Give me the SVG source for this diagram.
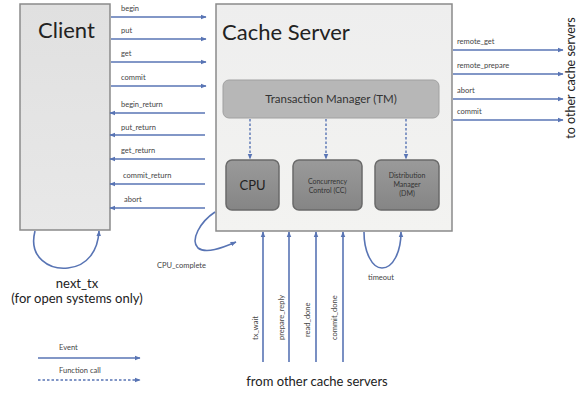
<svg xmlns="http://www.w3.org/2000/svg" width="578" height="394" viewBox="0 0 578 394">
<defs>
<marker id="ah" viewBox="0 0 10 10" refX="9" refY="5" markerWidth="6" markerHeight="6" orient="auto-start-reverse" markerUnits="userSpaceOnUse">
<path d="M0,1 L10,5 L0,9 z" fill="#5874b4"/>
</marker>
<linearGradient id="gc" x1="0" y1="0" x2="0" y2="1"><stop offset="0" stop-color="#e0e0e0"/><stop offset="1" stop-color="#e8e8e8"/></linearGradient>
<linearGradient id="gs" x1="0" y1="0" x2="0" y2="1"><stop offset="0" stop-color="#eeeeee"/><stop offset="1" stop-color="#f3f3f1"/></linearGradient>
<linearGradient id="gd" x1="0" y1="0" x2="0" y2="1"><stop offset="0" stop-color="#9a9a9a"/><stop offset="1" stop-color="#858585"/></linearGradient>
</defs>
<style>
.box{stroke:#8a8a8a;stroke-width:1.5}
.tm{fill:#b7b7b7;stroke:#a0a0a0;stroke-width:1}
.sub{fill:url(#gd);stroke:#6a6a6a;stroke-width:1.5}
.ar{stroke:#5874b4;stroke-width:1.6;fill:none;marker-end:url(#ah)}
.dash{stroke:#5874b4;stroke-width:1.4;fill:none;stroke-dasharray:2.5,2;marker-end:url(#ah)}
.lbl{font-family:Lato,"Open Sans",sans-serif;font-size:7.5px;fill:#444}
.big{font-family:Lato,"Open Sans",sans-serif;font-size:22px;fill:#222}
.mid{font-family:Lato,"Open Sans",sans-serif;font-size:13px;fill:#222}
.in{font-family:Lato,"Open Sans",sans-serif;font-size:7px;fill:#333;text-anchor:middle}
</style>
<rect width="578" height="394" fill="#ffffff"/>
<g id="client">
<rect class="box" x="20" y="4" width="90" height="226" fill="url(#gc)"/>
<text class="big" x="38" y="38">Client</text>
</g>
<g id="cache-server">
<rect class="box" x="216" y="4" width="236" height="227" fill="url(#gs)"/>
<text class="big" x="222" y="40">Cache Server</text>
</g>
<g id="tm">
<rect class="tm" x="223" y="80" width="216" height="38" rx="6"/>
<text x="331" y="103" text-anchor="middle" style="font-family:Lato,'Open Sans',sans-serif;font-size:11.5px;fill:#333">Transaction Manager (TM)</text>
</g>
<g id="cpu">
<rect class="sub" x="226" y="160" width="53" height="50" rx="6"/>
<text x="252.5" y="190" text-anchor="middle" style="font-family:Lato,'Open Sans',sans-serif;font-size:13px;fill:#222">CPU</text>
</g>
<g id="cc">
<rect class="sub" x="293" y="160" width="69" height="50" rx="6"/>
<text class="in" x="327.5" y="184">Concurrency</text>
<text class="in" x="327.5" y="193">Control (CC)</text>
</g>
<g id="dm">
<rect class="sub" x="375" y="160" width="64" height="50" rx="6"/>
<text class="in" x="407" y="178">Distribution</text>
<text class="in" x="407" y="187">Manager</text>
<text class="in" x="407" y="196">(DM)</text>
</g>
<g id="connectors">
<line class="ar" x1="111" y1="17" x2="206" y2="17"/>
<line class="ar" x1="111" y1="39" x2="206" y2="39"/>
<line class="ar" x1="111" y1="62" x2="206" y2="62"/>
<line class="ar" x1="111" y1="86" x2="206" y2="86"/>
<line class="ar" x1="205" y1="113" x2="110" y2="113"/>
<line class="ar" x1="205" y1="135" x2="110" y2="135"/>
<line class="ar" x1="205" y1="159" x2="110" y2="159"/>
<line class="ar" x1="205" y1="184" x2="110" y2="184"/>
<line class="ar" x1="205" y1="208" x2="110" y2="208"/>
<line class="ar" x1="453" y1="50" x2="563" y2="50"/>
<line class="ar" x1="453" y1="74" x2="563" y2="74"/>
<line class="ar" x1="453" y1="99" x2="563" y2="99"/>
<line class="ar" x1="453" y1="120" x2="563" y2="120"/>
<line class="dash" x1="250" y1="119" x2="250" y2="159"/>
<line class="dash" x1="326" y1="119" x2="326" y2="159"/>
<line class="dash" x1="406" y1="119" x2="406" y2="159"/>
<line class="ar" x1="263" y1="362" x2="263" y2="232"/>
<line class="ar" x1="289" y1="362" x2="289" y2="232"/>
<line class="ar" x1="316" y1="362" x2="316" y2="232"/>
<line class="ar" x1="343" y1="362" x2="343" y2="232"/>
<path class="ar" d="M35,231 C28,258 50,270 68,268 C88,266 98,250 99,231"/>
<path class="ar" d="M215,212 C200,222 190,240 198,248 C206,254 222,248 236,242"/>
<path class="ar" d="M364,232 C364,252 372,268 382,268 C393,268 401,252 401,232"/>
<line class="ar" x1="38" y1="358" x2="140" y2="358"/>
<line class="dash" x1="38" y1="380" x2="140" y2="380"/>
</g>
<g id="labels">
<text class="lbl" x="121" y="11">begin</text>
<text class="lbl" x="121" y="33">put</text>
<text class="lbl" x="121" y="56">get</text>
<text class="lbl" x="121" y="80">commit</text>
<text class="lbl" x="121" y="107">begin_return</text>
<text class="lbl" x="121" y="130">put_return</text>
<text class="lbl" x="121" y="153">get_return</text>
<text class="lbl" x="123" y="178">commit_return</text>
<text class="lbl" x="124" y="202">abort</text>
<text class="lbl" x="457" y="44">remote_get</text>
<text class="lbl" x="457" y="68">remote_prepare</text>
<text class="lbl" x="457" y="93">abort</text>
<text class="lbl" x="457" y="114">commit</text>
<text class="lbl" x="157" y="268">CPU_complete</text>
<text class="lbl" x="381" y="280" text-anchor="middle">timeout</text>
<text class="lbl" transform="translate(258,340) rotate(-90)">tx_wait</text>
<text class="lbl" transform="translate(284,340) rotate(-90)">prepare_reply</text>
<text class="lbl" transform="translate(310,337) rotate(-90)">read_done</text>
<text class="lbl" transform="translate(337,340) rotate(-90)">commit_done</text>
<text transform="translate(575,78) rotate(-90)" text-anchor="middle" style="font-family:Lato,'Open Sans',sans-serif;font-size:12.5px;fill:#222">to other cache servers</text>
<text class="mid" x="317" y="386" text-anchor="middle">from other cache servers</text>
<text class="mid" x="77" y="288" text-anchor="middle">next_tx</text>
<text class="mid" x="77" y="303" text-anchor="middle">(for open systems only)</text>
<text class="lbl" x="59" y="350">Event</text>
<text class="lbl" x="59" y="373">Function call</text>
</g>
</svg>
